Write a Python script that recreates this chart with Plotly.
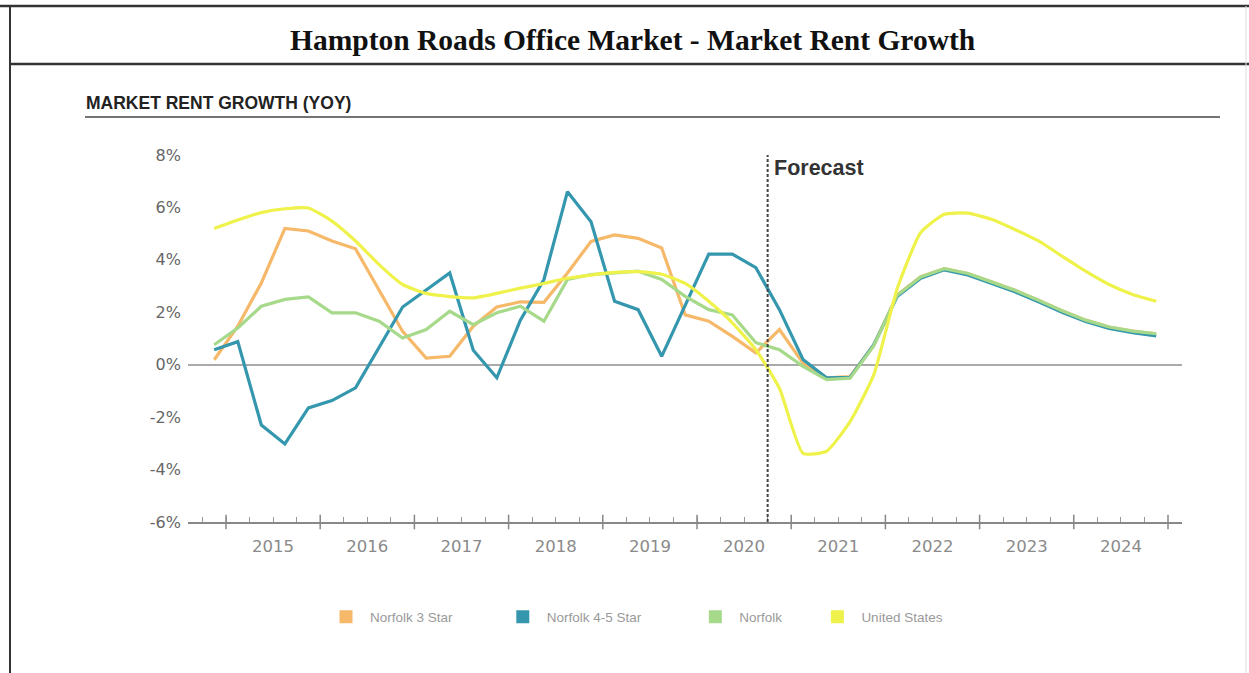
import plotly.graph_objects as go

# ---------------- data (quarterly, 2014 Q4 .. 2024 Q4) ----------------
years = list(range(2014, 2025))
quarters = [f"{y} Q{q}" for y in years for q in range(1, 5)][3:]  # 2014 Q4 .. 2024 Q4

norfolk_3_star = [0.19, 1.47, 3.12, 5.20, 5.10, 4.72, 4.42, 2.87, 1.27, 0.25,
                  0.32, 1.47, 2.20, 2.40, 2.38, 3.50, 4.70, 4.95, 4.82, 4.45,
                  1.90, 1.66, 1.08, 0.45, 1.34, 0.06, -0.50, -0.45, 0.74, 2.66,
                  3.36, 3.66, 3.48, 3.16, 2.84, 2.46, 2.06, 1.70, 1.44, 1.28, 1.18]

norfolk_4_5_star = [0.57, 0.88, -2.30, -3.02, -1.65, -1.37, -0.88, 0.65, 2.20, 2.85,
                    3.50, 0.55, -0.50, 1.70, 3.25, 6.60, 5.45, 2.42, 2.10, 0.32,
                    2.25, 4.22, 4.22, 3.70, 2.10, 0.20, -0.50, -0.48, 0.75, 2.60,
                    3.30, 3.62, 3.42, 3.10, 2.78, 2.40, 2.00, 1.65, 1.38, 1.22, 1.10]

norfolk = [0.76, 1.40, 2.23, 2.49, 2.59, 1.98, 1.98, 1.66, 1.02, 1.34,
           2.04, 1.53, 1.98, 2.23, 1.66, 3.25, 3.44, 3.50, 3.57, 3.25,
           2.61, 2.10, 1.90, 0.84, 0.57, -0.06, -0.57, -0.51, 0.72, 2.65,
           3.35, 3.66, 3.48, 3.16, 2.84, 2.46, 2.06, 1.70, 1.44, 1.28, 1.18]

united_states = [5.20, 5.52, 5.80, 5.95, 5.98, 5.48, 4.72, 3.82, 3.06, 2.72,
                 2.60, 2.55, 2.72, 2.92, 3.10, 3.30, 3.42, 3.52, 3.55, 3.45,
                 3.10, 2.42, 1.60, 0.57, -0.90, -3.38, -3.30, -2.17, -0.40, 2.90,
                 5.04, 5.74, 5.78, 5.55, 5.16, 4.72, 4.14, 3.57, 3.06, 2.68, 2.42]

series_names = ["Norfolk 3 Star", "Norfolk 4-5 Star", "Norfolk", "United States"]
series_colors = ["#F6B869", "#3497AE", "#A6D98A", "#EEF24A"]
series_values = [norfolk_3_star, norfolk_4_5_star, norfolk, united_states]
legend_pads = [11, 12, 7, 0]

year_labels = ["2015", "2016", "2017", "2018", "2019", "2020", "2021", "2022", "2023", "2024"]
y_ticks = [-6, -4, -2, 0, 2, 4, 6, 8]
y_ticktext = ["-6%", "-4%", "-2%", "0%", "2%", "4%", "6%", "8%"]
forecast_start = "2020 Q3"


def q_to_x(label):
    y, q = label.split(" Q")
    return int(y) + (int(q) - 0.5) / 4.0


x_vals = [q_to_x(q) for q in quarters]
forecast_x = q_to_x(forecast_start) + 0.125

fig = go.Figure()

for name, color, vals in zip(series_names, series_colors, series_values):
    smooth = name == "United States"
    fig.add_trace(go.Scatter(
        x=x_vals, y=vals, mode="lines", name=name, showlegend=False,
        line=dict(color=color, width=3.2,
                  shape="spline" if smooth else "linear",
                  smoothing=0.5 if smooth else None),
        hovertemplate="%{y:.1f}%<extra>" + name + "</extra>",
    ))

# legend entries with square swatches
for name, color, p in zip(series_names, series_colors, legend_pads):
    fig.add_trace(go.Scatter(
        x=[None], y=[None], mode="markers", name=name + "\u00a0" * p,
        marker=dict(symbol="square", size=13, color=color),
        showlegend=True,
    ))

# ---------------- layout ----------------
L, R, T, B = 188, 67, 155, 151
W, H = 1249, 673
pw, ph = W - L - R, H - T - B


def px(x):
    return (x - L) / pw


def py(y):
    return (H - B - y) / ph


shapes = []
# frame lines
shapes.append(dict(type="line", xref="paper", yref="paper", x0=px(0), x1=px(W), y0=py(6), y1=py(6),
                   line=dict(color="#333333", width=2.5)))
shapes.append(dict(type="line", xref="paper", yref="paper", x0=px(10), x1=px(W), y0=py(64), y1=py(64),
                   line=dict(color="#333333", width=2.5)))
shapes.append(dict(type="line", xref="paper", yref="paper", x0=px(10), x1=px(10), y0=py(6), y1=py(H),
                   line=dict(color="#333333", width=2)))
shapes.append(dict(type="line", xref="paper", yref="paper", x0=px(1246), x1=px(1246), y0=py(6), y1=py(H),
                   line=dict(color="#DDDDDD", width=1)))
# subtitle underline
shapes.append(dict(type="line", xref="paper", yref="paper", x0=px(85), x1=px(1220), y0=py(117), y1=py(117),
                   line=dict(color="#444444", width=1.5)))
# major year ticks crossing the axis
for yr in range(2015, 2026):
    shapes.append(dict(type="line", xref="x", yref="paper", x0=yr, x1=yr, y0=-0.02, y1=0.02,
                       line=dict(color="#888888", width=1.5)))
# forecast divider
shapes.append(dict(type="line", xref="x", yref="y", x0=forecast_x, x1=forecast_x, y0=-6, y1=8,
                   line=dict(color="#444444", width=2, dash="3px,2px")))

annotations = [
    dict(text="<b>Hampton Roads Office Market - Market Rent Growth</b>", xref="paper", yref="paper",
         x=px(632), y=py(40), xanchor="center", yanchor="middle", showarrow=False,
         font=dict(family="Liberation Serif, Times New Roman, serif", size=29.5, color="#111111")),
    dict(text="<b>MARKET RENT GROWTH (YOY)</b>", xref="paper", yref="paper",
         x=px(84), y=py(103), xanchor="left", yanchor="middle", showarrow=False,
         font=dict(family="Liberation Sans, Arial, sans-serif", size=17.5, color="#222222")),
    dict(text="<b>Forecast</b>", xref="x", yref="y", x=forecast_x, y=7.5, xanchor="left",
         yanchor="middle", xshift=4, showarrow=False,
         font=dict(family="Liberation Sans, Arial, sans-serif", size=21.5, color="#333333")),
]

fig.update_layout(
    width=W, height=H,
    margin=dict(l=L, r=R, t=T, b=B, pad=0),
    paper_bgcolor="white", plot_bgcolor="white",
    shapes=shapes, annotations=annotations,
    legend=dict(orientation="h", x=px(322), xanchor="left", y=py(617), yanchor="middle",
                font=dict(family="Liberation Sans, Arial, sans-serif", size=13.5, color="#9A9A9A"),
                bgcolor="rgba(0,0,0,0)", itemwidth=38),
    xaxis=dict(
        range=[2015 - (226 - L) / 94.2, 2015 + (W - R - 226) / 94.2],
        tickvals=[int(y) + 0.5 for y in year_labels], ticktext=year_labels,
        ticks="", showgrid=False, zeroline=False,
        showline=True, linecolor="#888888", linewidth=1.5,
        ticklabelstandoff=8,
        tickfont=dict(family="DejaVu Sans, sans-serif", size=16.5, color="#8A8A8A"),
        minor=dict(tickvals=[x + 0.125 for x in x_vals][:-1] + [2014.75], ticks="inside", ticklen=5,
                   tickcolor="#999999", tickwidth=1, showgrid=False),
        fixedrange=True,
    ),
    yaxis=dict(
        range=[-6, 8], tickvals=y_ticks, ticktext=y_ticktext,
        showgrid=False, zeroline=True, zerolinecolor="#AAAAAA", zerolinewidth=2,
        showline=False, ticks="", ticklabelstandoff=6,
        tickfont=dict(family="DejaVu Sans, sans-serif", size=16, color="#666666"),
        fixedrange=True,
    ),
    showlegend=True,
)

fig.write_html("out.html")
